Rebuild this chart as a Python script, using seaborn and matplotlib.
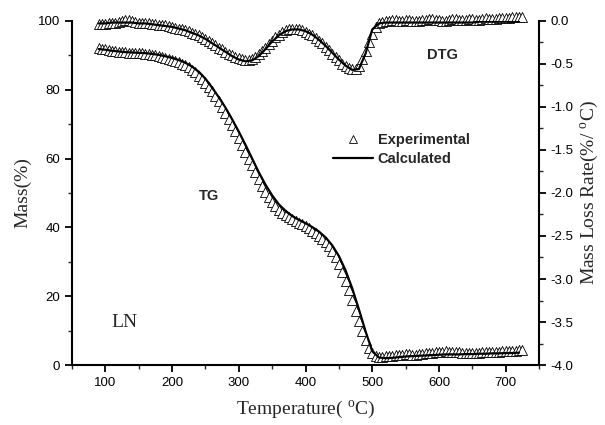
import numpy as np
import pandas as pd
import matplotlib
matplotlib.use("Agg")
import matplotlib.pyplot as plt
from matplotlib.lines import Line2D
from matplotlib.ticker import MultipleLocator
import seaborn as sns

sns.set_theme(style="ticks")
plt.rcParams['font.family'] = ['Liberation Sans', 'DejaVu Sans']
plt.rcParams['mathtext.fontset'] = 'custom'
plt.rcParams['mathtext.rm'] = 'Liberation Serif'

# ---------------- data ----------------
temp_exp = np.arange(90, 726, 5)   # experimental temperatures (°C)
tg_exp = [92.0, 91.9, 91.7, 91.5, 91.3, 91.1, 91.0, 90.9, 90.8, 90.7,
          90.7, 90.6, 90.6, 90.6, 90.5, 90.4, 90.2, 90.0, 89.8, 89.6,
          89.3, 89.0, 88.7, 88.4, 88.0, 87.6, 87.1, 86.5, 85.8, 85.0,
          84.1, 83.1, 82.0, 80.8, 79.5, 78.1, 76.6, 75.0, 73.3, 71.6,
          69.8, 67.9, 66.0, 64.0, 62.0, 60.0, 58.0, 56.0, 54.0, 52.1,
          50.3, 48.7, 47.3, 46.1, 45.1, 44.3, 43.6, 43.0, 42.4, 41.9,
          41.4, 40.9, 40.3, 39.7, 39.0, 38.3, 37.5, 36.7, 35.7, 34.5,
          33.0, 31.3, 29.3, 27.0, 24.5, 21.7, 18.8, 15.8, 12.8, 9.9,
          7.2, 5.0, 3.5, 2.7, 2.4, 2.4, 2.5, 2.6, 2.7, 2.8,
          2.9, 3.0, 3.1, 3.1, 3.0, 3.0, 3.1, 3.2, 3.4, 3.5,
          3.6, 3.7, 3.8, 3.9, 4.0, 3.9, 3.9, 3.8, 3.7, 3.6,
          3.5, 3.5, 3.5, 3.6, 3.6, 3.7, 3.7, 3.8, 3.8, 3.9,
          3.9, 4.0, 4.0, 4.1, 4.1, 4.2, 4.3, 4.5]
dtg_exp = [-0.04, -0.04, -0.04, -0.03, -0.03, -0.02, -0.01, 0.00, 0.01, 0.01,
           0.00, -0.01, -0.02, -0.03, -0.03, -0.03, -0.04, -0.04, -0.05, -0.05,
           -0.05, -0.06, -0.07, -0.08, -0.09, -0.10, -0.11, -0.12, -0.14, -0.15,
           -0.17, -0.19, -0.21, -0.23, -0.26, -0.28, -0.31, -0.33, -0.36, -0.38,
           -0.40, -0.42, -0.43, -0.44, -0.45, -0.45, -0.44, -0.42, -0.39, -0.35,
           -0.31, -0.27, -0.23, -0.19, -0.16, -0.13, -0.11, -0.10, -0.09, -0.09,
           -0.10, -0.11, -0.13, -0.15, -0.17, -0.20, -0.23, -0.26, -0.30, -0.34,
           -0.38, -0.42, -0.46, -0.50, -0.53, -0.55, -0.56, -0.56, -0.52, -0.44,
           -0.35, -0.25, -0.15, -0.07, -0.03, -0.01, 0.00, 0.00, 0.01, 0.01,
           0.00, 0.00, 0.01, 0.01, 0.00, 0.00, 0.00, 0.01, 0.01, 0.02,
           0.02, 0.01, 0.01, 0.00, 0.00, 0.01, 0.02, 0.02, 0.01, 0.01,
           0.01, 0.02, 0.02, 0.01, 0.01, 0.02, 0.03, 0.02, 0.02, 0.02,
           0.03, 0.03, 0.03, 0.03, 0.04, 0.04, 0.04, 0.05]

temp_calc = np.arange(90, 721, 10)  # calculated temperatures (°C)
tg_calc = [91.8, 91.6, 91.3, 91.1, 90.9, 90.8, 90.7, 90.6, 90.4, 90.1,
           89.7, 89.2, 88.6, 87.8, 86.7, 85.2, 83.2, 80.6, 77.8, 74.8,
           71.4, 67.8, 64.0, 60.0, 56.0, 52.4, 49.3, 46.7, 44.8, 43.3,
           42.2, 41.2, 40.1, 38.8, 37.1, 34.8, 31.7, 27.5, 22.3, 16.2,
           9.8, 4.0, 2.2, 2.0, 2.1, 2.3, 2.5, 2.6, 2.7, 2.8,
           2.9, 3.0, 3.1, 3.1, 3.1, 3.2, 3.2, 3.3, 3.3, 3.4,
           3.4, 3.5, 3.5, 3.6]
dtg_calc = [-0.03, -0.03, -0.02, -0.02, -0.02, -0.02, -0.03, -0.03, -0.04, -0.05,
            -0.06, -0.07, -0.09, -0.11, -0.14, -0.17, -0.21, -0.26, -0.31, -0.36,
            -0.41, -0.45, -0.47, -0.46, -0.41, -0.33, -0.24, -0.17, -0.12, -0.10,
            -0.10, -0.12, -0.16, -0.22, -0.29, -0.37, -0.45, -0.52, -0.57, -0.56,
            -0.38, -0.10, -0.03, -0.02, -0.02, -0.02, -0.02, -0.02, -0.02, -0.02,
            -0.02, -0.02, -0.02, -0.02, -0.02, -0.02, -0.02, -0.01, -0.01, -0.01,
            -0.01, -0.01, -0.01, -0.01]

exp_df = pd.DataFrame({"T": temp_exp, "TG": tg_exp, "DTG": dtg_exp})
calc_df = pd.DataFrame({"T": temp_calc, "TG": tg_calc, "DTG": dtg_calc})

# ---------------- figure ----------------
fig = plt.figure(figsize=(6.05, 4.25), dpi=100)
ax = fig.add_axes([0.119, 0.141, 0.772, 0.810])
ax2 = ax.twinx()

mk = dict(marker="^", s=52, facecolor="white", edgecolor="black",
          linewidth=0.6, clip_on=False, legend=False, zorder=3)
sns.scatterplot(data=exp_df, x="T", y="TG", ax=ax, **mk)
sns.lineplot(data=calc_df, x="T", y="TG", ax=ax, color="black", lw=1.6,
             legend=False, zorder=4)
sns.scatterplot(data=exp_df, x="T", y="DTG", ax=ax2, **mk)
sns.lineplot(data=calc_df, x="T", y="DTG", ax=ax2, color="black", lw=1.6,
             legend=False, zorder=4)

ax.set_xlim(50, 750)
ax.set_ylim(0, 100)
ax2.set_ylim(-4.0, 0.0)

ax.xaxis.set_major_locator(MultipleLocator(100))
ax.xaxis.set_minor_locator(MultipleLocator(50))
ax.yaxis.set_major_locator(MultipleLocator(20))
ax.yaxis.set_minor_locator(MultipleLocator(10))
ax2.yaxis.set_major_locator(MultipleLocator(0.5))
ax2.yaxis.set_minor_locator(MultipleLocator(0.25))
ax2.yaxis.set_major_formatter(matplotlib.ticker.FormatStrFormatter('%.1f'))

for a in (ax, ax2):
    a.spines['top'].set_visible(False)
    for s in a.spines.values():
        s.set_linewidth(1.5)
        s.set_color('black')
    a.tick_params(which='major', direction='out', length=5, width=1.3,
                  labelsize=9.5, colors='black')
    a.tick_params(which='minor', direction='out', length=3, width=1.0)
ax2.spines['left'].set_visible(False)
ax2.spines['bottom'].set_visible(False)
ax.spines['right'].set_visible(False)

serif = ['Liberation Serif', 'DejaVu Serif']
ax.set_xlabel(r"Temperature( $^{\rm o}$C)", family=serif, fontsize=14, labelpad=7)
ax.set_ylabel("Mass(%)", family=serif, fontsize=14, labelpad=5)
ax2.set_ylabel(r"Mass Loss Rate(%/ $^{\rm o}$C)", family=serif, fontsize=14, labelpad=3)

ax.text(256, 49, "TG", fontsize=10.5, fontweight='bold', ha='center', va='center')
ax.text(605, 90, "DTG", fontsize=10.5, fontweight='bold', ha='center', va='center')
ax.text(129, 12.5, "LN", family=serif, fontsize=14, ha='center', va='center')

handles = [Line2D([], [], marker='^', ls='', mfc='white', mec='black',
                  markersize=6, mew=0.6),
           Line2D([], [], color='black', lw=1.6)]
ax2.legend(handles, ["Experimental", "Calculated"], frameon=False,
           loc='upper left', bbox_to_anchor=(0.54, 0.70),
           bbox_transform=fig.transFigure,
           prop={'weight': 'bold', 'size': 10.5, 'family': ['Liberation Sans']},
           handlelength=2.8, handletextpad=0.3, labelspacing=0.35,
           borderaxespad=0)

ax.set_zorder(ax2.get_zorder() + 1)
ax.patch.set_visible(False)

fig.savefig("out.png", dpi=100)
